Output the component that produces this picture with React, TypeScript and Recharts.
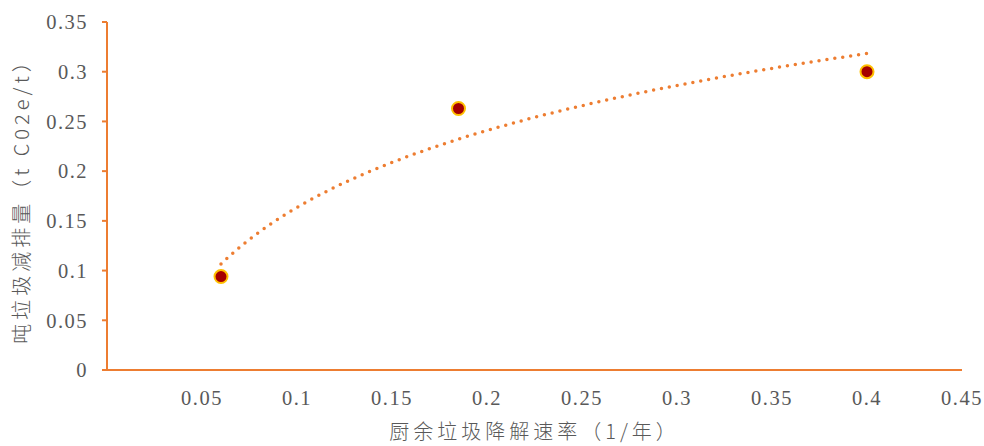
import React from 'react';
import { ScatterChart, Scatter, XAxis, YAxis, Label } from 'recharts';

// Degradation rate of kitchen waste (1/yr) and emission reduction per tonne
const rates = [0.06, 0.185, 0.4];
const reductions = [0.094, 0.263, 0.3];

const xTicks = [0.05, 0.1, 0.15, 0.2, 0.25, 0.3, 0.35, 0.4, 0.45];
const yTicks = [0, 0.05, 0.1, 0.15, 0.2, 0.25, 0.3, 0.35];

const xLabel = '厨余垃圾降解速率（1/年）';
const yLabel = '吨垃圾减排量（t C02e/t）';

const AXIS = '#ED7D31';
const TEXT = '#595959';
const SERIF = '"Liberation Serif", "Times New Roman", serif';
const CJK = '"Noto Sans CJK SC", "Liberation Serif", serif';

const points = rates.map((x, i) => ({ x, y: reductions[i] }));

// Logarithmic least-squares trendline y = a·ln(x) + b, sampled across the data range
function logTrend(xs: number[], ys: number[], steps: number) {
  const lx = xs.map((v) => Math.log(v));
  const n = xs.length;
  const mx = lx.reduce((s, v) => s + v, 0) / n;
  const my = ys.reduce((s, v) => s + v, 0) / n;
  let sxy = 0;
  let sxx = 0;
  lx.forEach((v, i) => {
    sxy += (v - mx) * (ys[i] - my);
    sxx += (v - mx) * (v - mx);
  });
  const a = sxy / sxx;
  const b = my - a * mx;
  const lo = Math.min(...xs);
  const hi = Math.max(...xs);
  const out: { x: number; y: number }[] = [];
  for (let k = 0; k <= steps; k++) {
    const x = lo + ((hi - lo) * k) / steps;
    out.push({ x, y: a * Math.log(x) + b });
  }
  return out;
}

const trend = logTrend(rates, reductions, 80);

const Marker = (props: any) => {
  const { cx, cy } = props;
  if (cx == null || cy == null) return <g />;
  return <circle cx={cx} cy={cy} r={6.5} fill="#A50000" stroke="#FFC000" strokeWidth={2} />;
};

const Empty = () => <g />;

export default function App() {
  return (
    <div style={{ position: 'fixed', left: 0, top: 0, width: 984, height: 446, background: '#fff' }}>
      <ScatterChart width={984} height={446} margin={{ top: 22, right: 22, bottom: 0, left: 0 }}>
        <XAxis
          type="number"
          dataKey="x"
          domain={[0, 0.45]}
          ticks={xTicks}
          interval={0}
          height={76}
          axisLine={{ stroke: AXIS, strokeWidth: 2 }}
          tickLine={false}
          tickMargin={14}
          tick={{ fill: TEXT, fontFamily: SERIF, fontSize: 20.5, letterSpacing: 1.5 }}
        >
          <Label
            value={xLabel}
            position="insideBottom"
            offset={7}
            style={{ fill: TEXT, fontFamily: CJK, fontSize: 20, fontWeight: 300, letterSpacing: 4 }}
          />
        </XAxis>
        <YAxis
          type="number"
          dataKey="y"
          domain={[0, 0.35]}
          ticks={yTicks}
          interval={0}
          width={107}
          axisLine={{ stroke: AXIS, strokeWidth: 2 }}
          tickLine={{ stroke: AXIS, strokeWidth: 2 }}
          tickSize={5}
          tickMargin={14}
          tick={{ fill: TEXT, fontFamily: SERIF, fontSize: 20.5, letterSpacing: 1.5 }}
        >
          <Label
            value={yLabel}
            angle={-90}
            position="insideLeft"
            offset={22}
            style={{ fill: TEXT, fontFamily: CJK, fontSize: 20, fontWeight: 300, letterSpacing: 4, textAnchor: 'middle' }}
          />
        </YAxis>
        <Scatter
          data={trend}
          isAnimationActive={false}
          shape={Empty}
          line={{ stroke: AXIS, strokeWidth: 3.5, strokeDasharray: '0 8', strokeLinecap: 'round' }}
          lineType="joint"
        />
        <Scatter data={points} isAnimationActive={false} shape={Marker} />
      </ScatterChart>
    </div>
  );
}
